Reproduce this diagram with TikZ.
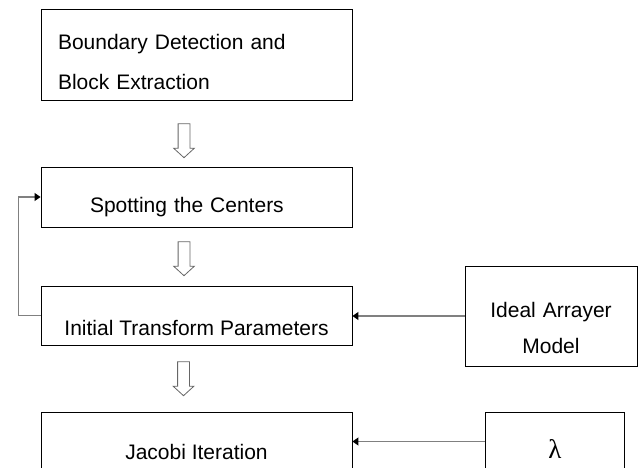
\documentclass[tikz,border=0pt]{standalone}
\usepackage{fontspec}
\setmainfont{Liberation Sans}
\newfontfamily\greekfont{Liberation Serif}
\usetikzlibrary{positioning,arrows.meta,shapes.arrows}

\begin{document}
\begin{tikzpicture}[
  x=1pt,y=-1pt,
  every node/.style={font=\fontsize{21}{40}\selectfont},
  block/.style={draw,line width=0.9pt,inner sep=0pt,minimum width=311pt},
  arrow/.style={-{Triangle[length=6pt,width=8pt,color=black]},draw=black!50,line width=1.2pt},
  hollow/.style={single arrow,draw=black!60,line width=0.8pt,rotate=-90,minimum height=34pt,inner xsep=0pt,inner ysep=5.5pt,single arrow head extend=4.5pt,single arrow tip angle=95}
]
  \path[use as bounding box,clip] (0,0) rectangle (638,468);
  \node[block,minimum height=91.5pt,text width=277pt,inner xsep=17pt,align=left,text height=35pt,text depth=45pt] (detect) at (196.5,55) {Boundary Detection and\\Block Extraction};
  \node[block,minimum height=60pt,text width=213pt,inner xsep=49pt,align=left,text height=34pt,text depth=2pt] (spot) at (196.5,197) {Spotting the Centers};
  \node[block,minimum height=59pt,text height=40pt,text depth=1pt] (init) at (196.5,315.5) {Initial Transform Parameters};
  \node[block,minimum width=172pt,minimum height=100pt,text width=162pt,align=center,text height=42pt,text depth=40pt,font=\fontsize{21}{36}\selectfont] (ideal) at (551,316) {Ideal Arrayer\\Model};
  \node[block,minimum height=59pt,text height=36pt,text depth=1pt] (jacobi) at (196.5,441.5) {Jacobi Iteration};
  \node[block,minimum width=139pt,minimum height=58pt,text height=34pt,text depth=1pt,font=\fontsize{27}{30}\greekfont] (lam) at (555,441.5) {λ};
  \node[hollow] (down1) at (184,138) {};
  \node[hollow] (down2) at (184,256) {};
  \node[hollow] (down3) at (183.5,376) {};
  \draw[arrow] (ideal.west) -- (ideal.west -| init.east);
  \draw[arrow] (lam.west) -- (lam.west -| jacobi.east);
  \draw[arrow] (init.west) -- ++(-22,0) |- (spot.west);
\end{tikzpicture}
\end{document}
